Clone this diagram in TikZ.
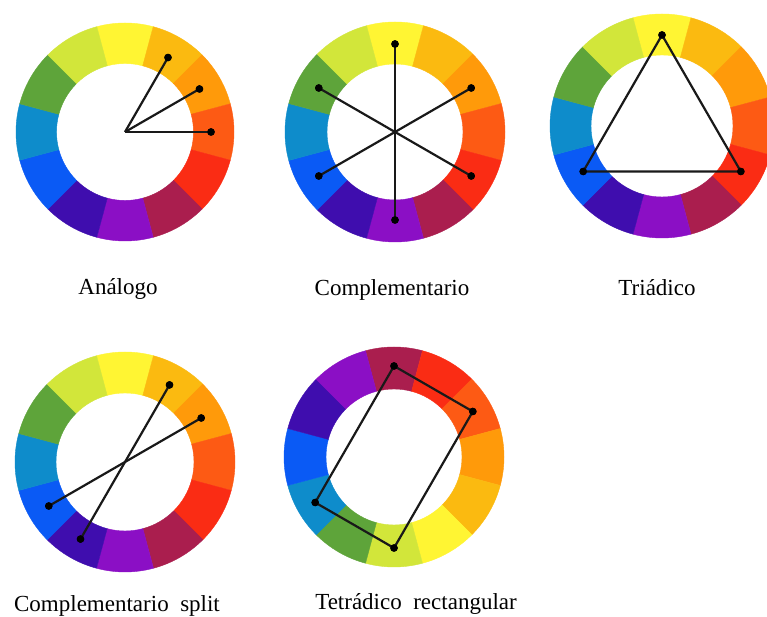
\documentclass[tikz,border=0pt]{standalone}
\usepackage{fontspec}
\setmainfont{Liberation Serif}
\definecolor{wY}{HTML}{FFF533}
\definecolor{wYO}{HTML}{FBBA10}
\definecolor{wO}{HTML}{FF9A0A}
\definecolor{wRO}{HTML}{FD5A14}
\definecolor{wR}{HTML}{FA2C14}
\definecolor{wRV}{HTML}{AA1E4E}
\definecolor{wV}{HTML}{8B0FC5}
\definecolor{wBV}{HTML}{3F0DAE}
\definecolor{wB}{HTML}{0A5AF5}
\definecolor{wC}{HTML}{0E8CCB}
\definecolor{wG}{HTML}{5EA43A}
\definecolor{wYG}{HTML}{D2E63A}
\newcommand\drawwheel[4]{%
  \foreach \c [count=\i from 0] in {#4} {
    \pgfmathsetmacro\a{90-30*\i}
    \filldraw[fill=\c,draw=\c,line width=0.4pt,shift={#1}]
      (\a+15:#2) arc[start angle=\a+15,end angle=\a-15,radius=#2]
      -- (\a-15:#3) arc[start angle=\a-15,end angle=\a+15,radius=#3] -- cycle;
  }}
\tikzset{
  wdot/.style={circle,fill=black,inner sep=0pt,minimum size=7.5pt},
  conn/.style={line width=2.2pt,black!90,line join=round},
  lbl/.style={font=\fontsize{23}{26}\selectfont,anchor=base,inner sep=0pt,text=black}
}
\begin{document}
\begin{tikzpicture}[x=1pt,y=1pt]
\fill[white] (0,0) rectangle (767,617);
\useasboundingbox (0,0) rectangle (767,617);
% wheel 1: Analogo
\drawwheel{(125,485)}{109}{68.5}{wY,wYO,wO,wRO,wR,wRV,wV,wBV,wB,wC,wG,wYG}
\begin{scope}[shift={(125,485)}]
  \coordinate (c1) at (0,0);
  \node[wdot] (a1) at (60:86) {};
  \node[wdot] (a2) at (30:86) {};
  \node[wdot] (a3) at (0:86) {};
  \draw[conn] (c1) -- (a1.center);
  \draw[conn] (c1) -- (a2.center);
  \draw[conn] (c1) -- (a3.center);
  \node[wdot] at (a1) {};
  \node[wdot] at (a2) {};
  \node[wdot] at (a3) {};
\end{scope}
% wheel 2: Complementario
\drawwheel{(395,485)}{110}{68}{wY,wYO,wO,wRO,wR,wRV,wV,wBV,wB,wC,wG,wYG}
\begin{scope}[shift={(395,485)}]
  \node[wdot] (b90) at (90:88) {};
  \node[wdot] (b270) at (270:88) {};
  \node[wdot] (b30) at (30:88) {};
  \node[wdot] (b210) at (210:88) {};
  \node[wdot] (b150) at (150:88) {};
  \node[wdot] (b330) at (330:88) {};
  \draw[conn] (b90.center) -- (b270.center);
  \draw[conn] (b30.center) -- (b210.center);
  \draw[conn] (b150.center) -- (b330.center);
  \foreach \n in {b90,b270,b30,b210,b150,b330} \node[wdot] at (\n) {};
\end{scope}
% wheel 3: Triadico
\drawwheel{(662,491)}{112}{71}{wY,wYO,wO,wRO,wR,wRV,wV,wBV,wB,wC,wG,wYG}
\begin{scope}[shift={(662,491)}]
  \node[wdot] (t1) at (90:91) {};
  \node[wdot] (t2) at (210:91) {};
  \node[wdot] (t3) at (330:91) {};
  \draw[conn] (t1.center) -- (t2.center) -- (t3.center) -- cycle;
  \foreach \n in {t1,t2,t3} \node[wdot] at (\n) {};
\end{scope}
% wheel 4: Complementario split
\drawwheel{(125,155)}{110}{69}{wY,wYO,wO,wRO,wR,wRV,wV,wBV,wB,wC,wG,wYG}
\begin{scope}[shift={(125,155)}]
  \node[wdot] (s60) at (60:89) {};
  \node[wdot] (s240) at (240:89) {};
  \node[wdot] (s30) at (30:88) {};
  \node[wdot] (s210) at (210:88) {};
  \draw[conn] (s60.center) -- (s240.center);
  \draw[conn] (s30.center) -- (s210.center);
  \foreach \n in {s60,s240,s30,s210} \node[wdot] at (\n) {};
\end{scope}
% wheel 5: Tetradico rectangular
\drawwheel{(394,160)}{110}{68}{wRV,wR,wRO,wO,wYO,wY,wYG,wG,wC,wB,wBV,wV}
\begin{scope}[shift={(394,160)}]
  \node[wdot] (r1) at (90:91) {};
  \node[wdot] (r2) at (30:91) {};
  \node[wdot] (r3) at (270:91) {};
  \node[wdot] (r4) at (210:91) {};
  \draw[conn] (r1.center) -- (r2.center) -- (r3.center) -- (r4.center) -- cycle;
  \foreach \n in {r1,r2,r3,r4} \node[wdot] at (\n) {};
\end{scope}
% labels
\node[lbl] (l1) at (118,322) {Análogo};
\node[lbl] (l2) at (392,321) {Complementario};
\node[lbl] (l3) at (657,321) {Triádico};
\node[lbl] (l4) at (117,5) {Complementario\hspace{0.5em}split};
\node[lbl] (l5) at (416,7) {Tetrádico\hspace{0.5em}rectangular};
\end{tikzpicture}
\end{document}
